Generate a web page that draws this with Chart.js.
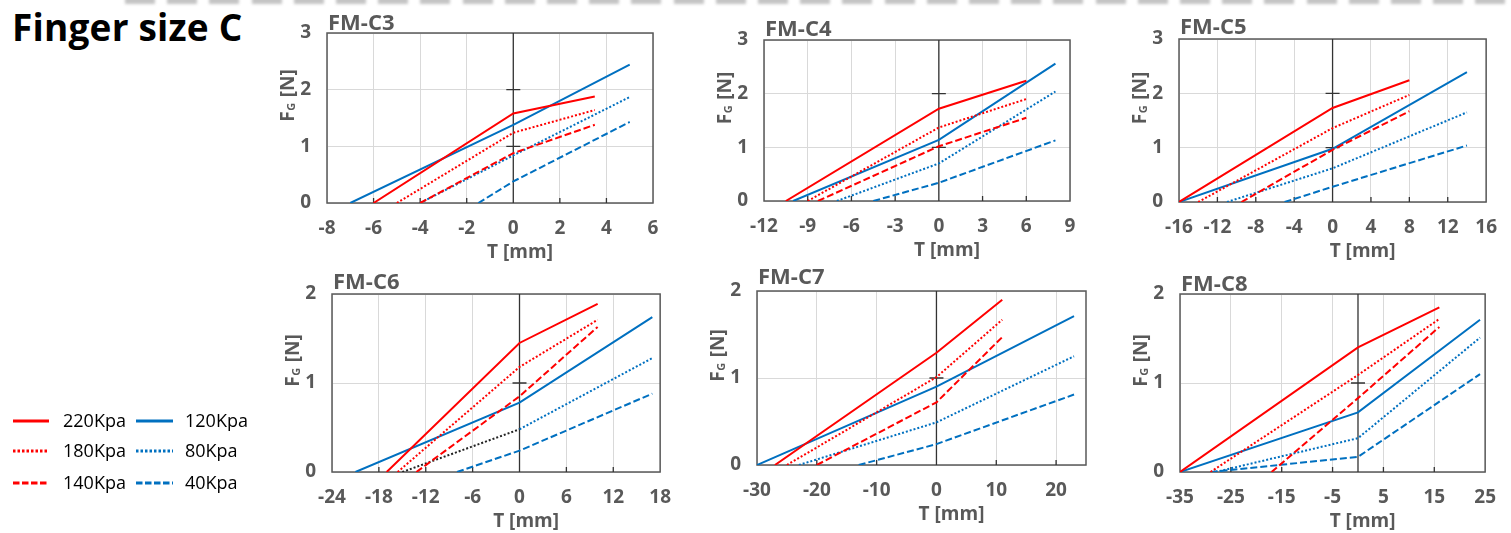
<!doctype html>
<html lang="en">
<head>
<meta charset="utf-8">
<title>Finger size C</title>
<style>
  * { box-sizing: border-box; margin: 0; padding: 0; }
  body { width: 1511px; height: 533px; background: #fff; position: relative; overflow: hidden;
         font-family: 'Open Sans', 'DejaVu Sans', sans-serif; }
  .strip { position: absolute; left: 125px; top: -4px; width: 1386px; height: 8px;
           background: repeating-linear-gradient(90deg, #c4c4c4 0 30px, transparent 30px 42.2px);
           filter: blur(1.5px); }
  h1 { position: absolute; left: 12px; top: 1px; font-size: 37px; font-weight: 700; color: #000; letter-spacing: 0.2px; }
  canvas { position: absolute; }
</style>
</head>
<body>
<div class="strip"></div>
<h1>Finger size C</h1>
<canvas id="legend" width="270" height="110" style="left:0;top:400px"></canvas>
<div id="charts"></div>

<script src="https://cdn.jsdelivr.net/npm/chart.js@4/dist/chart.umd.min.js"></script>
<script>
// series order: 220, 180, 140 (red) then 120, 80, 40 (blue)
const seriesLabels = ['220Kpa', '180Kpa', '140Kpa', '120Kpa', '80Kpa', '40Kpa'];

// each curve: (start, 0) -> (0, zero) -> (endT, endF)
const c3Start = [-6, -5, -4, -7, -4, -1.5];
const c3Zero  = [1.58, 1.24, 0.88, 1.38, 0.84, 0.38];
const c3EndT  = [3.5, 3.5, 3.5, 5, 5, 5];
const c3EndF  = [1.88, 1.64, 1.38, 2.44, 1.87, 1.43];
const c3XTicks = [-8, -6, -4, -2, 0, 2, 4, 6];
const c3YTicks = [0, 1, 2, 3];

const c4Start = [-10.5, -9, -8.3, -10, -7, -4.5];
const c4Zero  = [1.72, 1.37, 1.02, 1.14, 0.70, 0.34];
const c4EndT  = [6, 6, 6, 8, 8, 8];
const c4EndF  = [2.24, 1.90, 1.55, 2.56, 2.04, 1.13];
const c4XTicks = [-12, -9, -6, -3, 0, 3, 6, 9];
const c4YTicks = [0, 1, 2, 3];

const c5Start = [-16, -14, -9.5, -16, -11, -5];
const c5Zero  = [1.73, 1.36, 0.96, 0.98, 0.62, 0.28];
const c5EndT  = [8, 8, 8, 14, 14, 14];
const c5EndF  = [2.24, 1.97, 1.67, 2.39, 1.65, 1.04];
const c5XTicks = [-16, -12, -8, -4, 0, 4, 8, 12, 16];
const c5YTicks = [0, 1, 2, 3];

const c6Start = [-17, -15.6, -13.2, -21, -15, -8];
const c6Zero  = [1.45, 1.18, 0.85, 0.78, 0.48, 0.24];
const c6EndT  = [10, 10, 10, 17, 17, 17];
const c6EndF  = [1.89, 1.71, 1.63, 1.74, 1.28, 0.88];
const c6XTicks = [-24, -18, -12, -6, 0, 6, 12, 18];
const c6YTicks = [0, 1, 2];

const c7Start = [-27, -25, -20, -30, -23, -13];
const c7Zero  = [1.29, 1.01, 0.72, 0.90, 0.49, 0.24];
const c7EndT  = [11, 11, 11, 23, 23, 23];
const c7EndF  = [1.90, 1.67, 1.47, 1.71, 1.25, 0.81];
const c7XTicks = [-30, -20, -10, 0, 10, 20];
const c7YTicks = [0, 1, 2];

const c8Start = [-35, -29, -17, -35, -28, -29];
const c8Zero  = [1.40, 1.09, 0.83, 0.67, 0.38, 0.17];
const c8EndT  = [16, 16, 16, 24, 24, 24];
const c8EndF  = [1.85, 1.72, 1.63, 1.71, 1.51, 1.10];
const c8XTicks = [-35, -25, -15, -5, 5, 15, 25];
const c8YTicks = [0, 1, 2];

// styles
const seriesColors = ['#ff0000', '#ff0000', '#ff0000', '#0070c0', '#0070c0', '#0070c0'];
const seriesDash = [[], [2, 2], [7, 3], [], [2, 2], [7, 3]];
const grey = '#595959';
const FONT = "'Open Sans', 'DejaVu Sans', sans-serif";

const panels = [
  { name: 'FM-C3', start: c3Start, zero: c3Zero, endT: c3EndT, endF: c3EndF, xTicks: c3XTicks, yTicks: c3YTicks,
    xMin: -8, xMax: 6, yMax: 3, marks: [1, 2], box: { l: 327, t: 33, r: 653, b: 203 }, tdy: -9 },
  { name: 'FM-C4', start: c4Start, zero: c4Zero, endT: c4EndT, endF: c4EndF, xTicks: c4XTicks, yTicks: c4YTicks,
    xMin: -12, xMax: 9, yMax: 3, marks: [1, 2], box: { l: 764, t: 40, r: 1070, b: 201 }, tdy: -10 },
  { name: 'FM-C5', start: c5Start, zero: c5Zero, endT: c5EndT, endF: c5EndF, xTicks: c5XTicks, yTicks: c5YTicks,
    xMin: -16, xMax: 16, yMax: 3, marks: [1, 2], box: { l: 1179, t: 39, r: 1491, b: 202 }, tdy: -11 },
  { name: 'FM-C6', start: c6Start, zero: c6Zero, endT: c6EndT, endF: c6EndF, xTicks: c6XTicks, yTicks: c6YTicks,
    xMin: -24, xMax: 18, yMax: 2, marks: [1], box: { l: 332, t: 294, r: 665, b: 472 }, tdy: -11, blackLeft: 4 },
  { name: 'FM-C7', start: c7Start, zero: c7Zero, endT: c7EndT, endF: c7EndF, xTicks: c7XTicks, yTicks: c7YTicks,
    xMin: -30, xMax: 25, yMax: 2, marks: [1], box: { l: 757, t: 291, r: 1086, b: 465 }, tdy: -13 },
  { name: 'FM-C8', start: c8Start, zero: c8Zero, endT: c8EndT, endF: c8EndF, xTicks: c8XTicks, yTicks: c8YTicks,
    xMin: -35, xMax: 25, yMax: 2, marks: [1], box: { l: 1180, t: 294, r: 1490, b: 472 }, tdy: -9 }
];

const PAD_L = 60, PAD_T = 45, PAD_R = 20, PAD_B = 70;

const decor = {
  id: 'decor',
  beforeDatasetsDraw(chart) {
    const { ctx, chartArea: a, scales: { x, y } } = chart;
    const p = chart.options.plugins.decor;
    ctx.save();
    ctx.strokeStyle = grey;
    ctx.lineWidth = 1.5;
    ctx.strokeRect(a.left, a.top, a.right - a.left, a.bottom - a.top);
    // vertical axis crossing at T = 0
    const x0 = x.getPixelForValue(0);
    ctx.strokeStyle = '#333';
    ctx.lineWidth = 1.3;
    ctx.beginPath();
    ctx.moveTo(x0, a.top);
    ctx.lineTo(x0, a.bottom);
    p.marks.forEach(v => {
      const yy = y.getPixelForValue(v);
      ctx.moveTo(x0 - 7, yy);
      ctx.lineTo(x0 + 7, yy);
    });
    // small tick marks on the T axis
    x.ticks.forEach(t => {
      if (t.value > x.min && t.value < x.max && t.value !== 0) {
        const px = x.getPixelForValue(t.value);
        ctx.moveTo(px, a.bottom);
        ctx.lineTo(px, a.bottom - 5);
      }
    });
    ctx.stroke();
    ctx.restore();
  },
  afterDraw(chart) {
    const { ctx, chartArea: a } = chart;
    const p = chart.options.plugins.decor;
    ctx.save();
    ctx.fillStyle = grey;
    ctx.textBaseline = 'middle';
    ctx.font = 'bold 22px ' + FONT;
    ctx.textAlign = 'left';
    ctx.fillText(p.name, a.left + 1, a.top + p.tdy);
    ctx.font = 'bold 19px ' + FONT;
    ctx.textAlign = 'center';
    ctx.fillText('T [mm]', (a.left + a.right) / 2 + 30, a.bottom + 50);
    // y title: F with subscript G
    ctx.translate(a.left - 40, (a.top + a.bottom) / 2 - 22);
    ctx.rotate(-Math.PI / 2);
    ctx.textAlign = 'left';
    ctx.textBaseline = 'alphabetic';
    const big = 'bold 19px ' + FONT, small = 'bold 11px ' + FONT;
    ctx.font = big; const wF = ctx.measureText('F').width, wN = ctx.measureText(' [N]').width;
    ctx.font = small; const wG = ctx.measureText('G').width;
    let sx = -(wF + wG + wN) / 2;
    ctx.font = big; ctx.fillText('F', sx, 7); sx += wF;
    ctx.font = small; ctx.fillText('G', sx + 0.5, 8); sx += wG + 1;
    ctx.font = big; ctx.fillText(' [N]', sx, 7);
    ctx.restore();
  }
};

const holder = document.getElementById('charts');

panels.forEach(p => {
  const b = p.box;
  const cv = document.createElement('canvas');
  cv.width = b.r - b.l + PAD_L + PAD_R;
  cv.height = b.b - b.t + PAD_T + PAD_B;
  cv.style.left = (b.l - PAD_L) + 'px';
  cv.style.top = (b.t - PAD_T) + 'px';
  holder.appendChild(cv);

  const datasets = seriesLabels.map((label, i) => ({
    label,
    data: [{ x: p.start[i], y: 0 }, { x: 0, y: p.zero[i] }, { x: p.endT[i], y: p.endF[i] }],
    borderColor: seriesColors[i],
    borderDash: seriesDash[i],
    borderWidth: 2,
    pointRadius: 0,
    tension: 0,
    segment: p.blackLeft === i ? { borderColor: c => (c.p0DataIndex === 0 ? '#222' : undefined) } : undefined
  }));

  new Chart(cv.getContext('2d'), {
    type: 'line',
    data: { datasets },
    plugins: [decor],
    options: {
      responsive: false,
      animation: false,
      layout: { padding: { left: 0, top: PAD_T, right: PAD_R, bottom: 0 } },
      plugins: {
        legend: { display: false },
        tooltip: { enabled: false },
        decor: { name: p.name, marks: p.marks, tdy: p.tdy }
      },
      scales: {
        x: {
          type: 'linear', min: p.xMin, max: p.xMax,
          afterBuildTicks: s => { s.ticks = p.xTicks.map(v => ({ value: v })); },
          afterFit: s => { s.height = PAD_B; },
          grid: { color: '#d9d9d9', drawTicks: false },
          border: { display: false },
          ticks: { autoSkip: false, maxRotation: 0, padding: 14, color: grey, font: { family: FONT, size: 19, weight: 'bold' } }
        },
        y: {
          type: 'linear', min: 0, max: p.yMax,
          afterBuildTicks: s => { s.ticks = p.yTicks.map(v => ({ value: v })); },
          afterFit: s => { s.width = PAD_L; },
          grid: { color: '#d9d9d9', drawTicks: false },
          border: { display: false },
          ticks: { padding: 16, color: grey, font: { family: FONT, size: 19, weight: 'bold' } }
        }
      }
    }
  });
});

// legend
const lg = document.getElementById('legend').getContext('2d');
const rowY = [21, 51, 83];
seriesLabels.forEach((label, i) => {
  const col = i < 3 ? 0 : 1, row = i % 3;
  const x1 = col ? 136 : 13, x2 = col ? 173 : 49, tx = col ? 185 : 63;
  lg.save();
  lg.strokeStyle = seriesColors[i];
  lg.lineWidth = 3;
  lg.setLineDash(seriesDash[i].length ? (seriesDash[i][0] > 3 ? [6.5, 2.5] : [2.5, 2]) : []);
  lg.beginPath();
  lg.moveTo(x1, rowY[row]);
  lg.lineTo(x2, rowY[row]);
  lg.stroke();
  lg.restore();
  lg.fillStyle = '#000';
  lg.font = '18px ' + FONT;
  lg.textBaseline = 'middle';
  lg.fillText(label, tx, rowY[row] + 1);
});
</script>
</body>
</html>
